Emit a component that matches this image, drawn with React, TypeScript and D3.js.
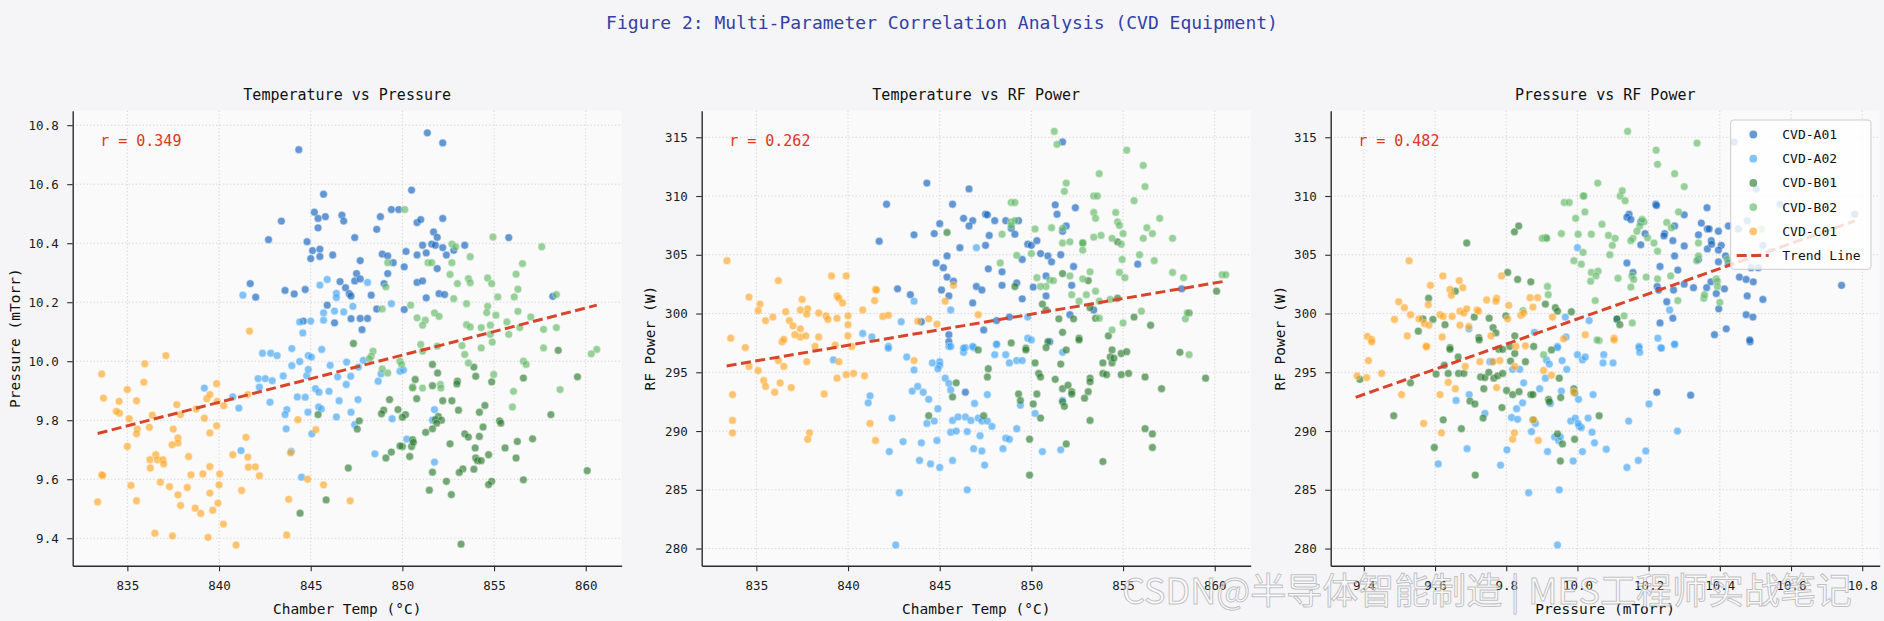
import React, { useEffect, useRef } from 'react'
import * as d3 from 'd3'

type Pt = [number, number]

const groups = ['CVD-A01', 'CVD-A02', 'CVD-B01', 'CVD-B02', 'CVD-C01']

// chamber temp (°C) vs pressure (mTorr)
const tempPressureA01: Pt[] = [
    [844.35, 10.717], [851.36, 10.774], [852.2, 10.74], [850.5, 10.58], [845.7, 10.566], [845.2, 10.505], [845.4, 10.484],
    [845.8, 10.49], [843.4, 10.475], [846.7, 10.495], [846.8, 10.475], [848.8, 10.49], [849.4, 10.514], [849.8, 10.514],
    [845.4, 10.452], [842.7, 10.412], [847.4, 10.419], [848.6, 10.447], [850.8, 10.47], [851.0, 10.48], [852.2, 10.484],
    [851.7, 10.438], [851.9, 10.42], [844.8, 10.405], [845.1, 10.375], [845.5, 10.38], [845.0, 10.348], [845.5, 10.355],
    [846.2, 10.36], [848.9, 10.363], [849.2, 10.357], [850.2, 10.372], [850.8, 10.36], [851.1, 10.393], [851.3, 10.367],
    [851.6, 10.397], [851.8, 10.393], [852.2, 10.385], [852.4, 10.36], [852.8, 10.376], [853.4, 10.393], [855.8, 10.419],
    [849.5, 10.334], [850.1, 10.32], [847.7, 10.341], [849.2, 10.297], [847.5, 10.297], [847.4, 10.272], [847.7, 10.279],
    [846.6, 10.27], [846.9, 10.249], [847.1, 10.229], [847.2, 10.221], [851.9, 10.314], [850.8, 10.267], [851.1, 10.272],
    [852.0, 10.229], [852.3, 10.226], [851.3, 10.215], [841.7, 10.263], [842.0, 10.217], [843.6, 10.24], [844.1, 10.228],
    [844.7, 10.243], [848.3, 10.224], [849.0, 10.263], [845.9, 10.19], [848.6, 10.177], [850.1, 10.175], [858.2, 10.22],
    [844.6, 10.136], [847.2, 10.144], [847.7, 10.145], [848.1, 10.145], [847.8, 10.107], [846.3, 10.13],
]
const tempPressureA02: Pt[] = [
    [841.3, 10.224], [845.9, 10.277], [845.5, 10.258], [846.4, 10.23], [846.4, 10.216], [846.3, 10.17], [846.8, 10.167],
    [845.7, 10.164], [847.3, 10.186], [848.1, 10.267], [849.4, 10.195], [845.0, 10.136], [845.7, 10.139], [844.4, 10.133],
    [844.57, 10.096], [842.37, 10.027], [842.82, 10.027], [843.17, 10.019], [843.97, 10.043], [844.4, 9.999], [843.97, 9.985],
    [844.87, 10.019], [845.04, 10.014], [845.6, 10.04], [846.06, 9.986], [846.96, 9.997], [847.6, 9.98], [847.87, 10.003],
    [842.13, 9.941], [842.52, 9.941], [842.9, 9.934], [842.2, 9.912], [843.5, 9.95], [844.78, 9.951], [844.87, 9.972],
    [845.26, 9.907], [845.45, 9.895], [846.0, 9.898], [846.47, 9.947], [846.94, 9.921], [847.18, 9.949], [848.68, 9.932],
    [848.83, 9.957], [849.87, 9.966], [850.06, 9.97], [839.2, 9.909], [840.75, 9.879], [841.08, 9.841], [842.78, 9.861],
    [843.7, 9.836], [843.6, 9.819], [844.27, 9.879], [844.7, 9.878], [845.43, 9.845], [845.58, 9.838], [846.55, 9.866],
    [847.58, 9.87], [843.66, 9.771], [844.85, 9.827], [846.4, 9.811], [847.2, 9.827], [845.06, 9.754], [849.44, 9.805],
    [850.24, 9.736], [851.64, 9.8], [851.75, 9.836], [848.5, 9.686], [843.94, 9.694], [841.2, 9.697], [844.5, 9.607],
    [851.75, 9.658], [847.4, 9.785],
]
const tempPressureB01: Pt[] = [
    [847.33, 10.06], [851.64, 9.989], [853.9, 9.98], [854.0, 9.949], [851.92, 9.96], [850.7, 9.938], [854.87, 9.93],
    [853.0, 9.932], [852.97, 9.923], [851.64, 9.917], [850.56, 9.912], [850.78, 9.873], [849.3, 9.87], [852.2, 9.866],
    [852.7, 9.866], [849.76, 9.836], [853.06, 9.834], [854.5, 9.85], [848.98, 9.834], [848.86, 9.822], [850.17, 9.819],
    [850.0, 9.81], [854.2, 9.827], [851.96, 9.813], [851.8, 9.802], [852.13, 9.8], [851.87, 9.79], [847.65, 9.798],
    [847.54, 9.77], [858.1, 9.819], [845.4, 9.819], [851.64, 9.771], [851.27, 9.759], [853.4, 9.754], [853.6, 9.743],
    [854.4, 9.777], [854.2, 9.745], [855.3, 9.798], [855.37, 9.79], [852.6, 9.72], [857.1, 9.737], [856.27, 9.728],
    [855.6, 9.706], [856.6, 9.943], [859.55, 9.947], [858.5, 10.037], [850.5, 9.711], [850.0, 9.711], [849.87, 9.713],
    [850.56, 9.734], [850.6, 9.725], [850.4, 9.677], [849.4, 9.692], [849.1, 9.672], [853.97, 9.706], [854.0, 9.672],
    [854.7, 9.683], [854.1, 9.663], [854.3, 9.663], [856.2, 9.672], [853.9, 9.634], [853.3, 9.635], [853.1, 9.623],
    [851.64, 9.624], [847.05, 9.638], [852.4, 9.593], [851.47, 9.563], [852.67, 9.548], [854.87, 9.593], [854.7, 9.582],
    [856.6, 9.598], [860.08, 9.629], [853.2, 9.38], [845.84, 9.53], [844.42, 9.485],
]
const tempPressureB02: Pt[] = [
    [850.13, 10.514], [854.94, 10.421], [857.6, 10.388], [852.7, 10.397], [852.9, 10.388], [853.7, 10.354], [851.4, 10.334],
    [851.6, 10.334], [852.7, 10.334], [849.2, 10.334], [856.55, 10.331], [852.6, 10.294], [853.0, 10.263], [853.6, 10.28],
    [853.7, 10.266], [854.65, 10.282], [854.87, 10.263], [856.2, 10.295], [856.3, 10.244], [856.1, 10.218], [855.2, 10.218],
    [858.4, 10.226], [849.1, 10.252], [852.8, 10.212], [853.5, 10.195], [854.65, 10.186], [850.45, 10.19], [856.3, 10.169],
    [854.6, 10.165], [855.1, 10.156], [851.75, 10.164], [857.0, 10.15], [850.8, 10.147], [851.25, 10.139], [852.0, 10.152],
    [855.7, 10.133], [853.5, 10.124], [853.7, 10.116], [854.3, 10.114], [854.8, 10.122], [851.1, 10.122], [858.4, 10.114],
    [856.4, 10.114], [857.7, 10.108], [848.9, 10.177], [851.0, 10.057], [851.1, 10.034], [851.9, 10.051], [853.25, 10.053],
    [853.4, 10.023], [853.6, 9.994], [854.3, 10.045], [854.9, 10.065], [854.8, 10.091], [855.8, 10.091], [857.7, 10.045],
    [860.6, 10.04], [860.3, 10.025], [856.6, 10.0], [856.75, 9.989], [849.87, 10.0], [849.96, 9.989], [848.4, 10.034],
    [848.3, 10.017], [848.2, 10.009], [849.2, 9.96], [848.9, 9.974], [854.98, 9.955], [850.56, 9.909], [851.1, 9.909],
    [852.07, 9.921], [852.1, 9.909], [856.06, 9.898], [856.0, 9.845], [858.6, 9.904],
]
const tempPressureC01: Pt[] = [
    [841.66, 10.102], [837.1, 10.019], [835.95, 9.991], [833.6, 9.957], [835.9, 9.929], [833.7, 9.875], [835.0, 9.904],
    [834.55, 9.864], [834.57, 9.824], [834.4, 9.83], [835.5, 9.866], [836.36, 9.817], [835.1, 9.805], [835.54, 9.77],
    [835.5, 9.754], [836.2, 9.776], [835.0, 9.711], [837.7, 9.853], [837.9, 9.819], [838.75, 9.838], [839.2, 9.807],
    [839.33, 9.873], [839.5, 9.887], [839.87, 9.924], [840.26, 9.849], [839.87, 9.781], [839.5, 9.757], [837.5, 9.77],
    [837.76, 9.74], [837.76, 9.723], [837.44, 9.717], [841.57, 9.887], [841.47, 9.742], [836.23, 9.666], [836.55, 9.683],
    [836.64, 9.666], [836.94, 9.666], [836.25, 9.638], [836.98, 9.652], [838.34, 9.677], [840.75, 9.683], [841.57, 9.675],
    [841.6, 9.641], [841.98, 9.642], [842.2, 9.612], [839.5, 9.643], [840.04, 9.618], [838.47, 9.615], [839.12, 9.618],
    [836.8, 9.59], [837.3, 9.575], [838.27, 9.572], [837.76, 9.547], [835.2, 9.579], [833.6, 9.615], [833.65, 9.613],
    [833.38, 9.523], [835.5, 9.527], [837.9, 9.511], [838.7, 9.502], [839.0, 9.484], [839.5, 9.553], [839.66, 9.495],
    [840.0, 9.581], [839.94, 9.519], [841.23, 9.562], [840.24, 9.448], [836.5, 9.417], [837.46, 9.408], [839.4, 9.403],
    [840.93, 9.377], [843.69, 9.411], [843.8, 9.532], [844.3, 9.802], [845.28, 9.768], [844.83, 9.6], [845.7, 9.581],
    [847.15, 9.527], [843.9, 9.69], [839.9, 9.864],
]

// chamber temp (°C) vs RF power (W), middle panel
const tempPowerA01: Pt[] = [
    [844.3, 311.1], [846.6, 310.6], [842.1, 309.3], [845.7, 309.3], [847.5, 308.45], [847.6, 308.4], [846.3, 308.1],
    [846.8, 307.9], [848.6, 307.9], [851.3, 309.25], [851.4, 308.45], [852.4, 309.0], [851.7, 314.6], [848.0, 307.9],
    [849.3, 307.9], [845.0, 307.65], [844.7, 306.8], [846.6, 307.45], [848.9, 307.25], [849.1, 306.75], [847.7, 306.65],
    [843.6, 306.7], [851.9, 307.45], [851.7, 307.0], [841.7, 306.15], [846.1, 305.6], [847.5, 305.8], [845.4, 304.9],
    [844.8, 304.3], [849.8, 305.9], [850.0, 305.8], [850.3, 306.2], [850.5, 305.1], [850.9, 304.9], [851.1, 304.4],
    [851.6, 305.0], [849.5, 304.6], [845.2, 303.9], [845.4, 303.1], [847.65, 303.8], [848.4, 303.55], [852.3, 304.0],
    [852.2, 302.4], [855.8, 304.2], [850.8, 303.2], [845.75, 302.75], [847.0, 302.3], [847.3, 302.0], [848.4, 302.4],
    [849.2, 302.6], [850.1, 302.25], [850.8, 301.5], [842.7, 302.1], [843.4, 301.6], [845.1, 302.0], [845.5, 301.5],
    [846.8, 300.9], [849.5, 301.25], [858.2, 302.1], [852.1, 299.9], [853.4, 300.3], [848.8, 299.7], [848.1, 299.4],
    [847.4, 298.6], [845.5, 298.2], [845.5, 297.6], [851.0, 297.6], [846.4, 293.3], [844.0, 299.3],
]
const tempPowerA02: Pt[] = [
    [847.0, 305.6], [843.6, 301.05], [845.6, 300.3], [842.9, 299.3], [840.8, 298.3], [841.3, 298.0], [842.2, 297.2],
    [845.5, 297.2], [846.4, 297.1], [846.85, 297.1], [848.1, 297.35], [849.8, 297.9], [849.8, 299.7], [842.2, 297.05],
    [843.2, 296.3], [843.6, 295.2], [844.6, 295.8], [845.0, 295.9], [845.0, 295.6], [844.9, 295.3], [845.6, 297.2],
    [846.3, 296.7], [846.3, 297.05], [846.8, 297.2], [848.0, 296.5], [848.6, 296.5], [848.8, 295.8], [849.2, 296.0],
    [849.5, 296.0], [848.1, 297.4], [850.0, 297.75], [851.7, 296.7], [839.2, 296.05], [843.5, 293.4], [843.8, 293.8],
    [844.1, 293.3], [844.4, 292.7], [845.3, 294.5], [845.5, 294.05], [845.6, 293.5], [844.9, 291.9], [841.2, 293.0],
    [841.1, 292.4], [847.6, 293.1], [846.9, 292.35], [849.4, 292.2], [850.2, 291.5], [851.7, 292.6], [842.4, 291.1],
    [844.3, 290.65], [844.7, 290.85], [845.7, 290.9], [846.0, 291.2], [846.4, 291.2], [846.7, 290.9], [847.1, 291.1],
    [847.3, 290.85], [847.6, 290.85], [847.85, 290.4], [845.6, 289.9], [845.9, 290.0], [846.5, 289.95], [847.2, 289.6],
    [849.2, 290.2], [848.6, 289.4], [848.8, 289.3], [844.85, 289.2], [843.0, 289.1], [844.0, 289.0], [842.25, 288.25],
    [846.85, 288.5], [847.3, 288.3], [848.45, 288.5], [850.6, 288.25], [851.6, 288.4], [843.9, 287.5], [844.5, 287.2],
    [845.0, 286.9], [845.7, 287.5], [847.45, 287.1], [846.5, 285.0], [842.8, 284.75], [842.6, 280.3],
]
const tempPowerB01: Pt[] = [
    [845.4, 306.9], [849.1, 302.3], [851.7, 303.4], [853.1, 302.8], [854.7, 306.1], [852.8, 306.0], [850.6, 300.8],
    [850.8, 300.3], [854.7, 301.3], [855.6, 299.7], [856.5, 299.0], [858.6, 300.05], [860.1, 301.9], [851.5, 299.55],
    [852.3, 299.55], [851.7, 298.4], [852.6, 297.9], [854.2, 298.1], [853.5, 299.6], [850.9, 297.6], [848.9, 297.5],
    [849.7, 297.05], [853.2, 300.5], [847.1, 296.9], [849.7, 296.9], [850.8, 297.1], [851.9, 296.9], [852.6, 297.75],
    [854.4, 296.9], [854.9, 296.6], [855.2, 296.75], [858.1, 296.7], [850.2, 295.8], [851.6, 295.7], [853.9, 295.8],
    [854.3, 296.3], [854.4, 295.8], [854.5, 296.2], [850.4, 294.9], [850.5, 294.6], [851.3, 294.4], [853.9, 294.9],
    [854.1, 294.8], [854.9, 294.8], [855.3, 294.9], [856.2, 294.6], [859.5, 294.5], [847.65, 295.3], [847.6, 294.6],
    [845.9, 294.1], [853.2, 294.5], [853.2, 294.2], [851.7, 293.6], [852.0, 293.9], [852.2, 293.35], [852.2, 293.15],
    [853.1, 293.35], [857.1, 293.6], [849.3, 293.15], [849.4, 292.6], [850.3, 293.15], [850.1, 292.3], [852.9, 292.8],
    [851.7, 292.5], [851.8, 292.1], [845.7, 292.9], [847.4, 291.3], [844.4, 291.3], [850.5, 291.1], [853.2, 290.9],
    [856.2, 290.2], [856.6, 289.75], [856.6, 288.6], [849.9, 289.3], [851.9, 288.9], [853.9, 287.4], [849.9, 286.25],
]
const tempPowerB02: Pt[] = [
    [851.25, 315.5], [851.4, 314.4], [855.2, 313.9], [856.1, 312.6], [856.2, 310.8], [851.9, 311.1], [851.8, 310.4],
    [853.7, 311.9], [853.4, 310.0], [853.6, 310.0], [848.9, 309.45], [849.1, 309.45], [855.6, 309.6], [853.4, 308.6],
    [853.5, 308.1], [854.6, 308.6], [857.0, 308.1], [848.9, 307.8], [849.1, 307.9], [848.9, 307.5], [854.7, 307.8],
    [854.8, 307.5], [850.2, 307.2], [851.1, 307.3], [851.7, 307.25], [856.3, 307.3], [854.4, 306.4], [855.0, 306.8],
    [854.9, 305.9], [853.4, 306.5], [851.7, 306.0], [852.1, 306.1], [853.8, 306.65], [856.1, 306.4], [856.6, 306.8],
    [857.7, 306.4], [848.4, 306.75], [852.8, 306.0], [852.8, 305.4], [855.9, 305.0], [856.7, 304.5], [850.0, 305.1],
    [849.2, 304.95], [848.3, 304.3], [854.95, 304.6], [854.8, 303.5], [855.1, 303.05], [857.7, 303.5], [858.3, 303.05],
    [860.4, 303.3], [860.6, 303.3], [852.1, 303.2], [853.2, 303.55], [852.8, 302.95], [850.3, 303.05], [851.0, 302.85],
    [851.2, 302.8], [850.8, 302.3], [850.5, 302.3], [852.2, 301.6], [853.5, 301.9], [853.0, 301.6], [852.6, 301.05],
    [853.7, 301.05], [854.3, 301.2], [856.0, 300.2], [858.4, 299.55], [858.5, 300.05], [854.4, 298.6], [855.0, 299.2],
    [853.7, 299.6], [858.6, 296.5],
]
const tempPowerC01: Pt[] = [
    [833.4, 304.5], [839.1, 303.2], [839.9, 303.2], [836.2, 302.8], [841.5, 302.05], [841.55, 302.0], [839.4, 301.5],
    [839.5, 301.3], [839.7, 300.9], [841.45, 301.1], [834.6, 301.4], [835.2, 300.8], [835.1, 300.25], [837.5, 301.2],
    [840.8, 300.3], [845.3, 301.05], [845.75, 302.4], [836.6, 300.15], [837.4, 300.3], [837.8, 300.4], [837.75, 299.95],
    [838.4, 300.05], [838.8, 299.8], [838.9, 299.5], [839.4, 299.6], [840.0, 299.8], [840.0, 299.05], [841.9, 299.75],
    [842.2, 299.85], [835.5, 299.4], [835.9, 299.7], [836.8, 299.4], [837.0, 298.95], [837.4, 298.7], [837.4, 298.0],
    [837.1, 298.2], [837.7, 298.1], [838.4, 298.0], [839.99, 298.1], [843.8, 299.35], [844.4, 299.55], [844.85, 299.1],
    [847.1, 299.9], [833.6, 297.9], [836.4, 297.6], [836.5, 297.8], [834.4, 297.1], [838.2, 297.2], [839.3, 297.3],
    [840.2, 297.2], [836.2, 296.0], [836.5, 295.5], [837.75, 295.9], [839.5, 295.9], [843.6, 296.0], [834.6, 295.5],
    [835.1, 295.15], [835.4, 294.3], [835.5, 293.8], [836.3, 294.1], [836.0, 293.3], [836.9, 293.7], [838.7, 293.15],
    [839.4, 294.5], [839.9, 294.8], [840.3, 294.9], [840.9, 294.7], [833.7, 293.1], [833.7, 290.9], [833.7, 289.85],
    [837.9, 289.85], [837.8, 289.3], [841.2, 290.65], [841.5, 289.2],
]

// pressure (mTorr) vs RF power (W), right panel
const pressurePowerA01: Pt[] = [
    [10.22, 309.3], [10.222, 309.2], [10.364, 309.0], [10.3, 308.4], [10.145, 308.45], [10.139, 308.2], [10.15, 308.0],
    [10.178, 307.8], [10.19, 306.8], [10.348, 307.7], [10.365, 307.2], [10.37, 307.2], [10.273, 307.45], [10.245, 306.8],
    [10.243, 306.6], [10.178, 305.85], [10.268, 306.2], [10.3, 305.75], [10.34, 306.7], [10.376, 306.2], [10.365, 305.5],
    [10.377, 305.9], [10.396, 307.0], [10.424, 307.45], [10.404, 305.8], [10.396, 305.4], [10.273, 304.9], [10.34, 304.6],
    [10.396, 304.4], [10.416, 304.9], [10.139, 304.3], [10.156, 303.5], [10.232, 304.0], [10.282, 303.7], [10.424, 304.3],
    [10.455, 303.1], [10.474, 302.9], [10.488, 303.9], [10.494, 302.7], [10.508, 303.9], [10.742, 302.4], [10.224, 302.3],
    [10.228, 302.0], [10.3, 302.5], [10.326, 302.2], [10.363, 302.2], [10.375, 302.7], [10.39, 301.7], [10.413, 302.1],
    [10.27, 302.0], [10.477, 301.5], [10.521, 301.2], [10.251, 301.0], [10.397, 300.4], [10.474, 299.9], [10.493, 299.7],
    [10.268, 299.6], [10.232, 299.2], [10.418, 298.7], [10.385, 298.2], [10.485, 297.6], [10.779, 308.45], [10.44, 314.6],
    [10.569, 309.3], [10.477, 307.9], [10.452, 307.2], [10.521, 305.8], [10.111, 299.5], [10.223, 293.3], [10.318, 293.05],
    [10.484, 297.75], [10.502, 310.6], [10.717, 311.1],
]
const pressurePowerA02: Pt[] = [
    [10.0, 305.6], [10.259, 300.3], [9.966, 299.7], [10.033, 299.4], [9.968, 298.0], [9.879, 298.4], [9.695, 298.7],
    [9.944, 297.2], [10.173, 297.2], [10.234, 297.1], [10.273, 297.35], [10.226, 297.9], [9.754, 295.9], [9.76, 295.9],
    [9.913, 296.05], [9.921, 295.7], [9.944, 297.1], [9.957, 296.0], [9.97, 295.25], [10.0, 296.5], [10.014, 296.05],
    [10.022, 296.3], [10.074, 296.5], [10.072, 295.8], [10.1, 295.8], [10.173, 297.1], [10.175, 296.7], [10.236, 297.05],
    [10.273, 297.4], [9.838, 295.25], [9.818, 295.25], [9.91, 294.5], [9.849, 294.1], [9.894, 293.6], [9.955, 293.4],
    [10.003, 292.7], [10.044, 293.1], [9.696, 293.1], [9.659, 292.6], [9.74, 291.5], [9.829, 291.9], [9.846, 292.4],
    [9.924, 292.35], [10.201, 292.3], [9.815, 291.15], [9.832, 291.0], [10.03, 291.1], [9.981, 290.85], [9.994, 291.1],
    [10.005, 290.4], [10.011, 290.3], [10.002, 290.65], [9.882, 290.65], [10.144, 290.85], [9.871, 289.95], [10.041, 289.9],
    [10.281, 290.0], [9.936, 289.5], [9.947, 289.2], [9.952, 289.5], [10.048, 289.0], [9.69, 288.5], [9.802, 288.4],
    [9.916, 288.25], [10.014, 288.25], [10.081, 288.45], [10.192, 288.3], [9.784, 287.1], [9.609, 287.2], [9.988, 287.45],
    [10.139, 286.9], [10.171, 287.5], [9.863, 284.75], [9.949, 285.0], [9.944, 280.3],
]
const pressurePowerB01: Pt[] = [
    [9.835, 307.45], [9.823, 306.95], [9.689, 306.0], [9.911, 306.45], [9.804, 303.5], [9.832, 302.9], [9.869, 302.7],
    [9.657, 301.9], [9.582, 301.3], [9.752, 299.6], [9.799, 299.8], [9.91, 300.8], [9.938, 300.5], [9.944, 300.2],
    [9.983, 300.15], [9.71, 299.7], [9.566, 299.55], [9.594, 299.5], [9.628, 299.05], [9.763, 298.8], [9.771, 298.35],
    [9.553, 298.5], [9.723, 297.95], [9.824, 298.1], [9.642, 297.1], [9.81, 297.2], [9.877, 297.2], [10.111, 299.55],
    [10.119, 299.05], [9.642, 296.95], [9.665, 296.3], [9.724, 297.75], [9.779, 296.95], [9.79, 296.95], [9.812, 295.95],
    [9.824, 296.6], [9.854, 295.9], [9.626, 295.6], [9.603, 294.85], [9.637, 294.9], [9.666, 294.9], [9.681, 294.9],
    [9.728, 294.6], [9.74, 294.55], [9.751, 295.0], [9.765, 294.5], [9.776, 294.7], [9.79, 294.9], [9.927, 296.9],
    [9.949, 294.5], [9.531, 294.1], [9.737, 293.6], [9.801, 293.45], [9.818, 293.1], [9.836, 293.35], [9.869, 293.1],
    [9.875, 293.1], [9.99, 293.6], [9.992, 293.25], [9.919, 292.7], [9.921, 292.5], [9.953, 292.85], [9.698, 292.55],
    [9.712, 292.3], [9.788, 292.0], [10.061, 291.3], [9.735, 291.1], [9.623, 290.95], [9.484, 291.3], [9.674, 290.2],
    [9.944, 289.75], [9.992, 289.3], [9.958, 288.9], [9.598, 288.6], [9.952, 287.45], [9.713, 286.25], [9.875, 290.95],
    [9.389, 294.4],
]
const pressurePowerB02: Pt[] = [
    [10.141, 315.5], [10.336, 314.5], [10.221, 313.9], [10.225, 312.7], [10.273, 311.9], [10.3, 310.8], [10.057, 311.1],
    [10.016, 310.0], [10.018, 310.0], [10.12, 310.0], [10.126, 310.45], [10.134, 309.6], [9.963, 309.45], [9.977, 309.45],
    [10.021, 308.65], [9.995, 308.1], [10.187, 307.8], [10.182, 308.0], [10.251, 307.75], [10.264, 307.3], [10.284, 308.65],
    [10.069, 307.6], [10.175, 307.45], [10.167, 307.0], [10.156, 306.4], [10.15, 306.2], [9.901, 306.4], [9.914, 306.4],
    [9.955, 306.8], [10.002, 306.75], [10.039, 306.75], [10.087, 306.65], [10.106, 306.4], [10.197, 306.45], [10.215, 306.0],
    [10.34, 306.0], [10.098, 305.8], [10.016, 305.2], [10.011, 304.2], [10.091, 305.0], [10.225, 305.3], [10.34, 304.9],
    [10.335, 304.5], [9.99, 304.5], [10.039, 303.5], [10.058, 303.6], [10.052, 303.2], [10.193, 303.1], [10.225, 302.95],
    [10.262, 303.2], [10.037, 302.75], [10.114, 303.0], [10.153, 303.2], [10.158, 302.9], [10.39, 302.95], [10.393, 302.75],
    [10.393, 302.3], [9.916, 302.3], [9.918, 301.6], [10.15, 302.25], [10.05, 301.1], [10.282, 301.1], [10.355, 301.3],
    [10.357, 301.6], [10.4, 300.95], [10.421, 304.6], [9.847, 300.25], [10.131, 299.8], [10.154, 299.2], [10.061, 297.7],
    [10.516, 307.2], [9.905, 296.5], [10.055, 297.75],
]
const pressurePowerC01: Pt[] = [
    [9.527, 304.5], [9.787, 303.2], [9.622, 303.2], [9.668, 302.8], [9.678, 302.2], [9.642, 302.05], [9.646, 301.55],
    [9.587, 302.4], [9.498, 301.0], [9.514, 300.5], [9.531, 299.9], [9.486, 299.5], [9.522, 298.1], [9.555, 299.55],
    [9.57, 299.15], [9.583, 299.0], [9.581, 300.75], [9.614, 299.9], [9.623, 299.75], [9.648, 299.75], [9.67, 300.2],
    [9.681, 300.05], [9.689, 300.4], [9.67, 299.0], [9.695, 298.9], [9.62, 298.0], [9.718, 300.3], [9.722, 300.2],
    [9.745, 301.15], [9.773, 301.3], [9.771, 301.05], [9.757, 298.1], [9.804, 299.55], [9.807, 300.7], [9.841, 299.85],
    [9.849, 300.05], [9.867, 301.35], [9.888, 301.35], [9.875, 300.55], [9.93, 299.7], [10.022, 298.2], [10.103, 297.9],
    [9.961, 297.85], [9.41, 298.05], [9.422, 297.8], [9.575, 297.2], [9.381, 294.7], [9.408, 294.55], [9.45, 294.9],
    [9.413, 296.0], [9.422, 297.6], [9.506, 293.1], [9.576, 297.2], [9.614, 293.1], [9.637, 294.15], [9.657, 293.6],
    [9.685, 295.5], [9.726, 295.9], [9.763, 295.9], [9.782, 296.0], [9.773, 293.7], [9.824, 295.5], [9.827, 297.2],
    [9.854, 297.25], [9.905, 295.15], [9.927, 294.75], [9.989, 293.35], [9.568, 290.65], [9.618, 289.85], [9.818, 289.3],
    [9.823, 289.85], [9.89, 289.2], [9.877, 290.95], [10.103, 297.75],
]

// dashed trend lines, end points
const trendTempPressure: Pt[] = [[833.38, 9.755], [860.6, 10.19]]
const trendTempPower: Pt[] = [[833.38, 295.54], [860.6, 302.76]]
const trendPressurePower: Pt[] = [[9.377, 292.87], [10.779, 307.88]]

const corrLabels = ['r = 0.349', 'r = 0.262', 'r = 0.482']
const panelTitles = ['Temperature vs Pressure', 'Temperature vs RF Power', 'Pressure vs RF Power']
const xLabels = ['Chamber Temp (°C)', 'Chamber Temp (°C)', 'Pressure (mTorr)']
const yLabels = ['Pressure (mTorr)', 'RF Power (W)', 'RF Power (W)']
const tempTicks = [835, 840, 845, 850, 855, 860]
const pressureTicks = [9.4, 9.6, 9.8, 10.0, 10.2, 10.4, 10.6, 10.8]
const powerTicks = [280, 285, 290, 295, 300, 305, 310, 315]

const groupColors = ['#1565C0', '#42A5F5', '#2E7D32', '#66BB6A', '#FFA726']
const trendColor = '#d9452b'
const MONO = '"DejaVu Sans Mono", monospace'

const App: React.FC = () => {
    const svgRef = useRef<SVGSVGElement | null>(null)

    useEffect(() => {
        if (!svgRef.current) return

        const width = 1884
        const height = 621
        const svg = d3.select(svgRef.current).attr('width', width).attr('height', height)
        svg.selectAll('*').remove()

        svg.append('rect').attr('width', width).attr('height', height).attr('fill', '#f5f5f8')

        svg.append('text')
            .attr('x', width / 2)
            .attr('y', 22)
            .attr('text-anchor', 'middle')
            .attr('dominant-baseline', 'central')
            .attr('font-family', MONO)
            .attr('font-size', 18)
            .attr('fill', '#3440a8')
            .text('Figure 2: Multi-Parameter Correlation Analysis (CVD Equipment)')

        // matplotlib style autoscale: data extent plus 5% on each side
        const padded = (vals: number[]): [number, number] => {
            const [lo, hi] = d3.extent(vals) as [number, number]
            const m = (hi - lo) * 0.05
            return [lo - m, hi + m]
        }
        const tp = [tempPressureA01, tempPressureA02, tempPressureB01, tempPressureB02, tempPressureC01]
        const tw = [tempPowerA01, tempPowerA02, tempPowerB01, tempPowerB02, tempPowerC01]
        const pw = [pressurePowerA01, pressurePowerA02, pressurePowerB01, pressurePowerB02, pressurePowerC01]
        const tempDomain = padded([...tp.flat(), ...tw.flat()].map((d) => d[0]))
        const pressureDomain = padded([...tp.flat().map((d) => d[1]), ...pw.flat().map((d) => d[0])])
        const powerDomain = padded([...tw.flat(), ...pw.flat()].map((d) => d[1]))

        const panels = [
            { series: tp, trend: trendTempPressure, xDomain: tempDomain, yDomain: pressureDomain, xTicks: tempTicks, yTicks: pressureTicks, xFmt: d3.format('d'), yFmt: d3.format('.1f'), left: 72.7, yLabelGap: 58 },
            { series: tw, trend: trendTempPower, xDomain: tempDomain, yDomain: powerDomain, xTicks: tempTicks, yTicks: powerTicks, xFmt: d3.format('d'), yFmt: d3.format('d'), left: 701.7, yLabelGap: 51.5 },
            { series: pw, trend: trendPressurePower, xDomain: pressureDomain, yDomain: powerDomain, xTicks: pressureTicks, yTicks: powerTicks, xFmt: d3.format('.1f'), yFmt: d3.format('d'), left: 1330.7, yLabelGap: 51 },
        ]

        const top = 110.7
        const w = 549
        const h = 455

        panels.forEach((p, i) => {
            const g = svg.append('g').attr('transform', `translate(${p.left},${top})`)
            const x = d3.scaleLinear().domain(p.xDomain).range([0, w])
            const y = d3.scaleLinear().domain(p.yDomain).range([h, 0])

            g.append('rect').attr('width', w).attr('height', h).attr('fill', '#fafafa')

            // dotted grid
            g.append('g')
                .selectAll('line')
                .data(p.xTicks)
                .join('line')
                .attr('x1', (d) => x(d))
                .attr('x2', (d) => x(d))
                .attr('y1', 0)
                .attr('y2', h)
            g.append('g')
                .selectAll('line')
                .data(p.yTicks)
                .join('line')
                .attr('x1', 0)
                .attr('x2', w)
                .attr('y1', (d) => y(d))
                .attr('y2', (d) => y(d))
            g.selectAll('g line')
                .attr('stroke', '#cdcdcd')
                .attr('stroke-width', 0.9)
                .attr('stroke-dasharray', '1.2,2.3')

            // scatter per equipment
            p.series.forEach((pts, k) => {
                g.append('g')
                    .selectAll('circle')
                    .data(pts)
                    .join('circle')
                    .attr('cx', (d) => x(d[0]))
                    .attr('cy', (d) => y(d[1]))
                    .attr('r', 3.9)
                    .attr('fill', groupColors[k])
                    .attr('opacity', 0.66)
                    .attr('stroke', '#ffffff')
                    .attr('stroke-width', 0.5)
            })

            const line = d3.line<Pt>().x((d) => x(d[0])).y((d) => y(d[1]))
            g.append('path')
                .attr('d', line(p.trend))
                .attr('fill', 'none')
                .attr('stroke', trendColor)
                .attr('stroke-width', 3)
                .attr('stroke-dasharray', '10,4.5')

            const xAxis = g.append('g')
                .attr('transform', `translate(0,${h})`)
                .call(d3.axisBottom(x).tickValues(p.xTicks).tickFormat((d) => p.xFmt(d as number)).tickSize(5.5).tickPadding(10).tickSizeOuter(0))
            const yAxis = g.append('g')
                .call(d3.axisLeft(y).tickValues(p.yTicks).tickFormat((d) => p.yFmt(d as number)).tickSize(5.5).tickPadding(8.5).tickSizeOuter(0))
            ;[xAxis, yAxis].forEach((a) => {
                a.attr('font-family', MONO).attr('font-size', 12.5)
                a.select('.domain').attr('stroke', '#2b2b2b').attr('stroke-width', 1.4)
                a.selectAll('.tick line').attr('stroke', '#2b2b2b').attr('stroke-width', 1.1)
                a.selectAll('.tick text').attr('fill', '#1a1a1a')
            })

            g.append('text')
                .attr('x', w / 2)
                .attr('y', -16)
                .attr('text-anchor', 'middle')
                .attr('dominant-baseline', 'central')
                .attr('font-family', MONO)
                .attr('font-size', 15)
                .attr('fill', '#111')
                .text(panelTitles[i])

            g.append('text')
                .attr('x', w / 2)
                .attr('y', h + 43)
                .attr('text-anchor', 'middle')
                .attr('dominant-baseline', 'central')
                .attr('font-family', MONO)
                .attr('font-size', 14.5)
                .attr('fill', '#111')
                .text(xLabels[i])

            g.append('text')
                .attr('transform', `translate(${-p.yLabelGap},${h / 2}) rotate(-90)`)
                .attr('text-anchor', 'middle')
                .attr('dominant-baseline', 'central')
                .attr('font-family', MONO)
                .attr('font-size', 14.5)
                .attr('fill', '#111')
                .text(yLabels[i])

            g.append('text')
                .attr('x', w * 0.05)
                .attr('y', h * 0.05 + 8)
                .attr('dominant-baseline', 'central')
                .attr('font-family', MONO)
                .attr('font-size', 15)
                .attr('fill', '#d9381e')
                .text(corrLabels[i])

            if (i === 2) {
                const lw = 140.3
                const lg = g.append('g').attr('transform', `translate(${w - 8.7 - lw},9.3)`)
                lg.append('rect')
                    .attr('width', lw)
                    .attr('height', 149.3)
                    .attr('rx', 3)
                    .attr('fill', '#ffffff')
                    .attr('fill-opacity', 0.82)
                    .attr('stroke', '#cccccc')
                    .attr('stroke-width', 1)
                const rowY = (j: number) => 14.5 + j * 24.2
                groups.forEach((name, k) => {
                    lg.append('circle')
                        .attr('cx', 22.6)
                        .attr('cy', rowY(k))
                        .attr('r', 3.9)
                        .attr('fill', groupColors[k])
                        .attr('opacity', 0.66)
                    lg.append('text')
                        .attr('x', 51.6)
                        .attr('y', rowY(k))
                        .attr('dominant-baseline', 'central')
                        .attr('font-family', MONO)
                        .attr('font-size', 13)
                        .attr('fill', '#111')
                        .text(name)
                })
                lg.append('line')
                    .attr('x1', 6)
                    .attr('x2', 38)
                    .attr('y1', rowY(5))
                    .attr('y2', rowY(5))
                    .attr('stroke', trendColor)
                    .attr('stroke-width', 3)
                    .attr('stroke-dasharray', '10,4.5')
                lg.append('text')
                    .attr('x', 51.6)
                    .attr('y', rowY(5))
                    .attr('dominant-baseline', 'central')
                    .attr('font-family', MONO)
                    .attr('font-size', 13)
                    .attr('fill', '#111')
                    .text('Trend Line')
            }
        })

        // site watermark over the bottom-right corner
        svg.append('text')
            .attr('x', 1122)
            .attr('y', 588)
            .attr('dominant-baseline', 'central')
            .attr('font-family', '"Noto Sans CJK SC", sans-serif')
            .attr('font-size', 36)
            .attr('fill', '#ffffff')
            .attr('fill-opacity', 0.5)
            .attr('stroke', '#8a8a8a')
            .attr('stroke-opacity', 0.5)
            .attr('stroke-width', 1)
            .text('CSDN@半导体智能制造 | MES工程师实战笔记')
    }, [])

    return <svg ref={svgRef} style={{ position: 'fixed', left: 0, top: 0, display: 'block' }} />
}

export default App
